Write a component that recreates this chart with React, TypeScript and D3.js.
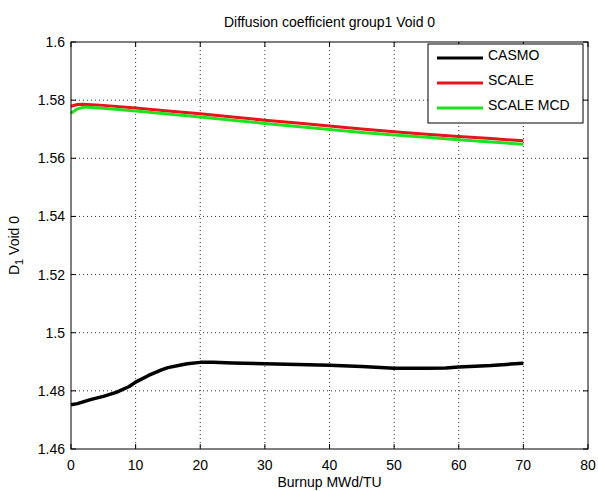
import React from "react";
import * as d3 from "d3";

// burnup points (MWd/TU)
const casmoBurnup = [0, 1, 3, 5, 7, 9, 10, 12, 14, 15, 17, 18, 20, 22, 25, 30, 35, 40, 45, 50, 55, 58, 60, 65, 68, 70];
const casmoValues = [1.4752, 1.4756, 1.4770, 1.4781, 1.4795, 1.4815, 1.4830, 1.4853, 1.4872, 1.4880, 1.4889, 1.4893, 1.4898, 1.4898, 1.4896, 1.4893, 1.4891, 1.4888, 1.4884, 1.4878, 1.4878, 1.4879, 1.4882, 1.4887, 1.4892, 1.4895];

const scaleBurnup = [0, 1, 2, 5, 10, 15, 20, 25, 30, 35, 40, 45, 50, 55, 60, 65, 70];
const scaleValues = [1.5779, 1.5785, 1.5786, 1.5782, 1.5773, 1.5763, 1.5753, 1.5742, 1.5731, 1.5721, 1.5711, 1.5701, 1.5691, 1.5683, 1.5675, 1.5668, 1.5660];
const scaleMcdValues = [1.5755, 1.5770, 1.5776, 1.5772, 1.5763, 1.5752, 1.5742, 1.5731, 1.5720, 1.5709, 1.5699, 1.5689, 1.5680, 1.5672, 1.5664, 1.5656, 1.5648];

const xTicks = [0, 10, 20, 30, 40, 50, 60, 70, 80];
const yTicks = [1.46, 1.48, 1.5, 1.52, 1.54, 1.56, 1.58, 1.6];

const legendItems = [
  { label: "CASMO", color: "#000000" },
  { label: "SCALE", color: "#e8141c" },
  { label: "SCALE MCD", color: "#1fe21f" },
];

const W = 598;
const H = 491;
const margin = { top: 42, right: 10, bottom: 42, left: 71 };
const font = "'Liberation Sans', Arial, Helvetica, sans-serif";

export default function App() {
  const x = d3.scaleLinear().domain([0, 80]).range([margin.left, W - margin.right]);
  const y = d3.scaleLinear().domain([1.46, 1.6]).range([H - margin.bottom, margin.top]);

  const line = d3
    .line<[number, number]>()
    .x((d) => x(d[0]))
    .y((d) => y(d[1]));

  const casmo = casmoBurnup.map((b, i) => [b, casmoValues[i]] as [number, number]);
  const scale = scaleBurnup.map((b, i) => [b, scaleValues[i]] as [number, number]);
  const scaleMcd = scaleBurnup.map((b, i) => [b, scaleMcdValues[i]] as [number, number]);

  const x0 = x(0), x1 = x(80), y0 = y(1.46), y1 = y(1.6);
  const tick = 5;

  const lgX = 428, lgY = 44, lgW = 155, lgH = 79;

  return (
    <svg
      width={W}
      height={H}
      style={{ position: "absolute", left: 0, top: 0, background: "#fff" }}
      fontFamily={font}
    >
      <rect x={0} y={0} width={W} height={H} fill="#fff" />
      {/* grid */}
      <g stroke="#000" strokeWidth={1} strokeDasharray="1,3" opacity={0.8}>
        {xTicks.slice(1, -1).map((t) => (
          <line key={"gx" + t} x1={x(t)} x2={x(t)} y1={y1} y2={y0} />
        ))}
        {yTicks.slice(1, -1).map((t) => (
          <line key={"gy" + t} x1={x0} x2={x1} y1={y(t)} y2={y(t)} />
        ))}
      </g>

      {/* data */}
      <g fill="none" strokeWidth={3} strokeLinejoin="round">
        <path d={line(scale) || ""} stroke={legendItems[1].color} />
        <path d={line(scaleMcd) || ""} stroke={legendItems[2].color} />
        <path d={line(casmo) || ""} stroke={legendItems[0].color} strokeWidth={3.5} />
      </g>

      {/* axes box + ticks */}
      <rect x={x0} y={y1} width={x1 - x0} height={y0 - y1} fill="none" stroke="#000" strokeWidth={1} />
      <g stroke="#000" strokeWidth={1}>
        {xTicks.map((t) => (
          <g key={"tx" + t}>
            <line x1={x(t)} x2={x(t)} y1={y0} y2={y0 - tick} />
            <line x1={x(t)} x2={x(t)} y1={y1} y2={y1 + tick} />
          </g>
        ))}
        {yTicks.map((t) => (
          <g key={"ty" + t}>
            <line x1={x0} x2={x0 + tick} y1={y(t)} y2={y(t)} />
            <line x1={x1} x2={x1 - tick} y1={y(t)} y2={y(t)} />
          </g>
        ))}
      </g>

      {/* tick labels */}
      <g fontSize={14} fill="#000">
        {xTicks.map((t) => (
          <text key={"lx" + t} x={x(t)} y={y0 + 21} textAnchor="middle">
            {t}
          </text>
        ))}
        {yTicks.map((t) => (
          <text key={"ly" + t} x={x0 - 6} y={y(t) + 5} textAnchor="end">
            {d3.format("~g")(t)}
          </text>
        ))}
      </g>

      {/* title & labels */}
      <text x={(x0 + x1) / 2} y={27} textAnchor="middle" fontSize={14}>
        Diffusion coefficient group1 Void 0
      </text>
      <text x={(x0 + x1) / 2} y={H - 4} textAnchor="middle" fontSize={14}>
        Burnup MWd/TU
      </text>
      <text
        transform={`translate(19,${(y0 + y1) / 2}) rotate(-90)`}
        textAnchor="middle"
        fontSize={14}
      >
        D<tspan fontSize={11} dy={4}>1</tspan>
        <tspan dy={-4}> Void 0</tspan>
      </text>

      {/* legend */}
      <rect x={lgX} y={lgY} width={lgW} height={lgH} fill="#fff" stroke="#000" strokeWidth={1} />
      {legendItems.map((item, i) => {
        const ly = lgY + 14 + i * 25;
        return (
          <g key={item.label}>
            <line x1={lgX + 9} x2={lgX + 55} y1={ly} y2={ly} stroke={item.color} strokeWidth={3} />
            <text x={lgX + 60} y={ly + 2} fontSize={14}>
              {item.label}
            </text>
          </g>
        );
      })}
    </svg>
  );
}
